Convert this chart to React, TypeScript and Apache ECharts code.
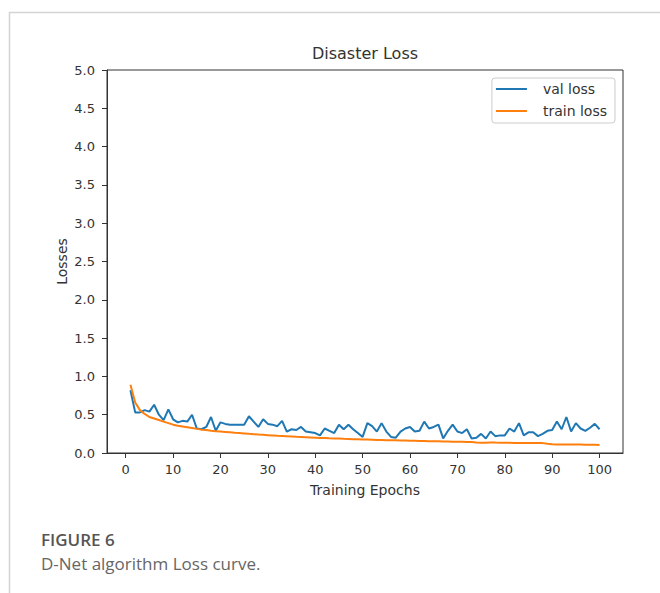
import React, { useEffect, useRef } from "react";
import * as echarts from "echarts";

const chartTitle = "Disaster Loss";
const xAxisName = "Training Epochs";
const yAxisName = "Losses";
const figureLabel = "FIGURE 6";
const figureCaption = "D-Net algorithm Loss curve.";

const xTickValues = [0, 10, 20, 30, 40, 50, 60, 70, 80, 90, 100];

const valLoss = [
  0.82, 0.53, 0.53, 0.56, 0.54, 0.63, 0.5, 0.43, 0.57, 0.44,
  0.4, 0.42, 0.41, 0.5, 0.32, 0.31, 0.34, 0.47, 0.29, 0.4,
  0.38, 0.37, 0.37, 0.37, 0.37, 0.48, 0.41, 0.34, 0.44, 0.38,
  0.37, 0.35, 0.42, 0.28, 0.31, 0.3, 0.34, 0.28, 0.27, 0.26,
  0.23, 0.32, 0.29, 0.26, 0.37, 0.31, 0.37, 0.31, 0.26, 0.21,
  0.39, 0.35, 0.28, 0.39, 0.28, 0.21, 0.2, 0.28, 0.32, 0.34,
  0.28, 0.29, 0.41, 0.32, 0.34, 0.37, 0.19, 0.29, 0.37, 0.28,
  0.26, 0.31, 0.19, 0.2, 0.25, 0.19, 0.28, 0.22, 0.23, 0.23,
  0.32, 0.28, 0.39, 0.23, 0.27, 0.27, 0.22, 0.25, 0.29, 0.3,
  0.41, 0.31, 0.47, 0.28, 0.39, 0.32, 0.29, 0.33, 0.38, 0.31,
];

const trainLoss = [
  0.89, 0.66, 0.56, 0.51, 0.47, 0.45, 0.43, 0.41, 0.39, 0.37,
  0.355, 0.345, 0.335, 0.325, 0.315, 0.305, 0.3, 0.29, 0.285, 0.28,
  0.275, 0.27, 0.264, 0.26, 0.255, 0.25, 0.246, 0.241, 0.237, 0.233,
  0.229, 0.225, 0.222, 0.219, 0.216, 0.212, 0.209, 0.206, 0.203, 0.2,
  0.197, 0.195, 0.192, 0.19, 0.188, 0.185, 0.183, 0.181, 0.179, 0.177,
  0.175, 0.173, 0.171, 0.17, 0.168, 0.166, 0.165, 0.163, 0.162, 0.16,
  0.159, 0.157, 0.156, 0.155, 0.153, 0.152, 0.151, 0.15, 0.148, 0.147,
  0.146, 0.145, 0.144, 0.137, 0.134, 0.135, 0.138, 0.136, 0.135, 0.134,
  0.133, 0.132, 0.132, 0.131, 0.13, 0.13, 0.129, 0.129, 0.12, 0.113,
  0.112, 0.112, 0.111, 0.111, 0.11, 0.11, 0.109, 0.108, 0.107, 0.104,
];

const epochs = valLoss.map((_, i) => i + 1);

const FONT = "DejaVu Sans";
const INK = "#333333";

export default function App() {
  const ref = useRef<HTMLDivElement>(null);

  useEffect(() => {
    if (!ref.current) return;
    const chart = echarts.init(ref.current, null, { renderer: "svg" });
    chart.setOption({
      animation: false,
      backgroundColor: "#ffffff",
      title: {
        text: chartTitle,
        left: 365,
        top: 45,
        textAlign: "center",
        textStyle: { fontFamily: FONT, fontSize: 16, fontWeight: "normal", color: INK },
        padding: 0,
      },
      grid: {
        left: 107,
        right: 37,
        top: 70,
        bottom: 140,
        show: true,
        borderColor: INK,
        borderWidth: 1,
        backgroundColor: "transparent",
      },
      legend: {
        orient: "vertical",
        right: 45,
        top: 78,
        align: "left",
        icon: "rect",
        itemWidth: 31,
        itemHeight: 2,
        itemGap: 8,
        padding: [4, 8, 5, 4],
        borderColor: "#cccccc",
        borderWidth: 1,
        borderRadius: 3,
        backgroundColor: "rgba(255,255,255,0.8)",
        textStyle: {
          fontFamily: FONT,
          fontSize: 14,
          color: INK,
          padding: [0, 0, 0, 11],
        },
        data: ["val loss", "train loss"],
      },
      xAxis: {
        type: "value",
        min: -3.95,
        max: 104.95,
        name: xAxisName,
        nameLocation: "middle",
        nameGap: 30,
        nameMoveOverlap: false,
        nameTextStyle: { fontFamily: FONT, fontSize: 14, color: INK },
        axisLine: { show: true, onZero: false, lineStyle: { color: INK, width: 1 } },
        axisTick: {
          show: true,
          length: 5,
          customValues: xTickValues,
          lineStyle: { color: INK },
        },
        axisLabel: {
          customValues: xTickValues,
          margin: 10,
          fontFamily: FONT,
          fontSize: 13,
          color: INK,
        },
        splitLine: { show: false },
      },
      yAxis: {
        type: "value",
        min: 0,
        max: 5,
        interval: 0.5,
        name: yAxisName,
        nameLocation: "middle",
        nameGap: 38,
        nameMoveOverlap: false,
        nameTextStyle: { fontFamily: FONT, fontSize: 14, color: INK },
        axisLine: { show: true, onZero: false, lineStyle: { color: INK, width: 1 } },
        axisTick: { show: true, length: 5, lineStyle: { color: INK } },
        axisLabel: {
          margin: 12,
          fontFamily: FONT,
          fontSize: 13,
          color: INK,
          formatter: (v: number) => v.toFixed(1),
        },
        splitLine: { show: false },
      },
      series: [
        {
          name: "val loss",
          type: "line",
          showSymbol: false,
          data: epochs.map((e, i) => [e, valLoss[i]]),
          lineStyle: { color: "#1f77b4", width: 2 },
          itemStyle: { color: "#1f77b4" },
        },
        {
          name: "train loss",
          type: "line",
          showSymbol: false,
          data: epochs.map((e, i) => [e, trainLoss[i]]),
          lineStyle: { color: "#ff7f0e", width: 2 },
          itemStyle: { color: "#ff7f0e" },
        },
      ],
      graphic: [
        {
          type: "line",
          shape: { x1: 9.5, y1: 12, x2: 9.5, y2: 593 },
          style: { stroke: "#d4d4d4", lineWidth: 1.5 },
          silent: true,
        },
        {
          type: "line",
          shape: { x1: 9, y1: 12.5, x2: 660, y2: 12.5 },
          style: { stroke: "#d4d4d4", lineWidth: 1.5 },
          silent: true,
        },
        {
          type: "text",
          x: 41,
          y: 539,
          style: {
            text: figureLabel,
            fontFamily: "Open Sans",
            fontSize: 17,
            fontWeight: 600,
            fill: "#555555",
            verticalAlign: "middle",
          },
        },
        {
          type: "text",
          x: 41,
          y: 563,
          style: {
            text: figureCaption,
            fontFamily: "Open Sans",
            fontSize: 17,
            fontWeight: "normal",
            fill: "#666666",
            verticalAlign: "middle",
          },
        },
      ],
    });
    return () => chart.dispose();
  }, []);

  return (
    <div
      ref={ref}
      style={{ position: "fixed", left: 0, top: 0, width: 660, height: 593 }}
    />
  );
}
